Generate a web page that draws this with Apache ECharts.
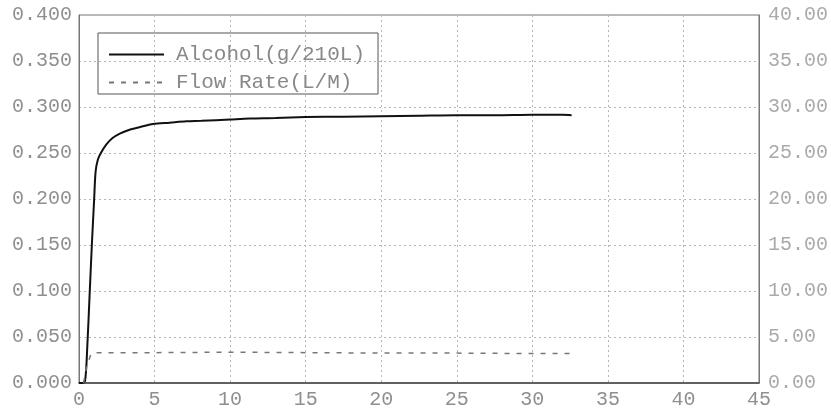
<!DOCTYPE html>
<html>
<head>
<meta charset="utf-8">
<script src="https://cdn.jsdelivr.net/npm/echarts@6/dist/echarts.min.js"></script>
<style>html,body{margin:0;padding:0;background:#fff;}#c{width:831px;height:410px;}</style>
</head>
<body>
<div id="c"></div>
<script>
var xTicks = [0, 5, 10, 15, 20, 25, 30, 35, 40, 45];
var alcoholTime = [0, 0.2, 0.4, 0.55, 0.7, 0.85, 1.0, 1.1, 1.25, 1.45, 1.8, 2.2, 2.7, 3.3, 4.0, 4.9, 6, 7.1, 8.1, 10, 11.3, 13, 15, 17.5, 20, 22.5, 25, 27.5, 30, 32, 32.6];
var alcoholValues = [0, 0, 0.002, 0.04, 0.095, 0.15, 0.199, 0.23, 0.243, 0.25, 0.259, 0.266, 0.271, 0.275, 0.278, 0.2815, 0.283, 0.2845, 0.285, 0.2865, 0.2875, 0.288, 0.289, 0.2895, 0.29, 0.2905, 0.291, 0.291, 0.2915, 0.2915, 0.291];
var flowTime = [0.3, 0.5, 0.8, 1.1, 5, 10, 15, 20, 25, 30, 32.5];
var flowValues = [0.0, 1.7, 3.2, 3.3, 3.3, 3.35, 3.3, 3.25, 3.25, 3.2, 3.2];

var font = 'Liberation Mono';
var textColor = '#8f8f8f';
function pairs(xs, ys) { return xs.map(function (x, i) { return [x, ys[i]]; }); }

var chart = echarts.init(document.getElementById('c'));
chart.setOption({
  animation: false,
  backgroundColor: '#fff',
  grid: { left: 79, right: 72, top: 15, bottom: 27, show: true, borderColor: '#777', borderWidth: 1 },
  legend: {
    orient: 'vertical', left: 98, top: 33,
    borderColor: '#555', borderWidth: 1,
    padding: [11, 13, 1, 10], itemGap: 7,
    itemWidth: 55, itemHeight: 20,
    itemStyle: { opacity: 0 },
    textStyle: { fontFamily: font, fontSize: 21, color: '#888', padding: [0, 0, 0, 7] },
    data: ['Alcohol(g/210L)', 'Flow Rate(L/M)']
  },
  xAxis: {
    type: 'value', min: xTicks[0], max: xTicks[xTicks.length - 1], interval: 5,
    axisLine: { show: true, lineStyle: { color: '#444', width: 1.5 } },
    axisTick: { show: false },
    axisLabel: { fontFamily: font, fontSize: 20, color: textColor, margin: 7 },
    splitLine: { show: true, lineStyle: { type: [2, 3], color: '#b5b5b5' } }
  },
  yAxis: [{
    type: 'value', min: 0, max: 0.4, interval: 0.05, position: 'left',
    axisLine: { show: true, lineStyle: { color: '#777' } },
    axisTick: { show: false },
    axisLabel: { fontFamily: font, fontSize: 20, color: textColor, margin: 7, formatter: function (v) { return v.toFixed(3); } },
    splitLine: { show: true, lineStyle: { type: [2, 3], color: '#b5b5b5' } }
  }, {
    type: 'value', min: 0, max: 40, interval: 5, position: 'right',
    axisLine: { show: true, lineStyle: { color: '#777' } },
    axisTick: { show: false },
    axisLabel: { fontFamily: font, fontSize: 20, color: '#aaa', margin: 9, formatter: function (v) { return v.toFixed(2); } },
    splitLine: { show: false }
  }],
  series: [{
    name: 'Alcohol(g/210L)', type: 'line', yAxisIndex: 0,
    data: pairs(alcoholTime, alcoholValues),
    symbol: 'none', smooth: 0.3,
    lineStyle: { color: '#111', width: 2 },
    itemStyle: { color: '#111' }
  }, {
    name: 'Flow Rate(L/M)', type: 'line', yAxisIndex: 1,
    data: pairs(flowTime, flowValues),
    symbol: 'none',
    lineStyle: { color: '#777', width: 1.5, type: [5, 7] },
    itemStyle: { color: '#777' }
  }]
});
</script>
</body>
</html>
